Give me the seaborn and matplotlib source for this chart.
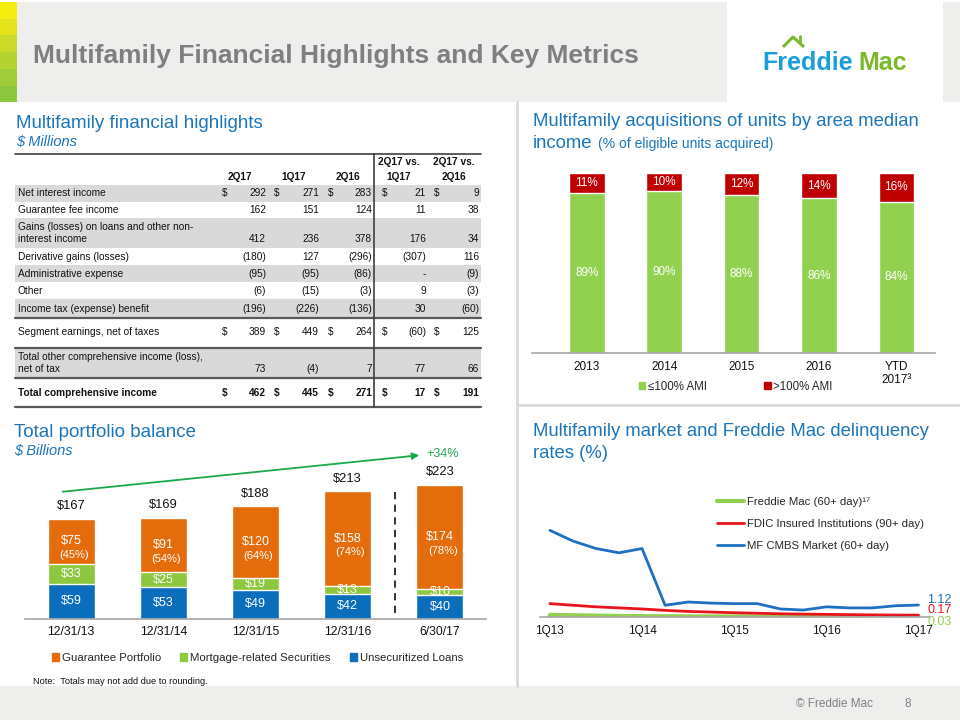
import numpy as np
import pandas as pd
import matplotlib
matplotlib.use('Agg')
import matplotlib.pyplot as plt
from matplotlib.patches import Rectangle, Patch
from matplotlib.lines import Line2D
import seaborn as sns

# ---------------- data ----------------
table_cols = ['2Q17', '1Q17', '2Q16', '2Q17 vs.\n1Q17', '2Q17 vs.\n2Q16']
table_rows = ['Net interest income',
              'Guarantee fee income',
              'Gains (losses) on loans and other non-\ninterest income',
              'Derivative gains (losses)',
              'Administrative expense',
              'Other',
              'Income tax (expense) benefit',
              'Segment earnings, net of taxes',
              'Total other comprehensive income (loss),\nnet of tax',
              'Total comprehensive income']
table_vals = [[292, 271, 283, 21, 9],
              [162, 151, 124, 11, 38],
              [412, 236, 378, 176, 34],
              [-180, 127, -296, -307, 116],
              [-95, -95, -86, 0, -9],
              [-6, -15, -3, 9, -3],
              [-196, -226, -136, 30, -60],
              [389, 449, 264, -60, 125],
              [73, -4, 7, 77, 66],
              [462, 445, 271, 17, 191]]
dollar_rows = [0, 7, 9]
bold_rows = [9]

ami_years = ['2013', '2014', '2015', '2016', 'YTD\n2017³']
ami_low = [89, 90, 88, 86, 84]
ami_high = [11, 10, 12, 14, 16]

port_dates = ['12/31/13', '12/31/14', '12/31/15', '12/31/16', '6/30/17']
port_guarantee = [75, 91, 120, 158, 174]
port_securities = [33, 25, 19, 13, 10]
port_loans = [59, 53, 49, 42, 40]
port_totals = [167, 169, 188, 213, 223]
port_guar_share = [45, 54, 64, 74, 78]
port_growth = '+34%'

quarters = ['1Q13', '2Q13', '3Q13', '4Q13', '1Q14', '2Q14', '3Q14', '4Q14',
            '1Q15', '2Q15', '3Q15', '4Q15', '1Q16', '2Q16', '3Q16', '4Q16', '1Q17']
cmbs_rate = [8.1, 7.1, 6.4, 6.0, 6.4, 1.1, 1.4, 1.3, 1.25, 1.25, 0.75, 0.65,
             0.95, 0.85, 0.85, 1.05, 1.12]
fdic_rate = [1.25, 1.1, 0.95, 0.85, 0.75, 0.62, 0.52, 0.46, 0.4, 0.35, 0.3,
             0.27, 0.25, 0.22, 0.2, 0.18, 0.17]
freddie_rate = [0.2, 0.16, 0.13, 0.1, 0.08, 0.07, 0.06, 0.05, 0.05, 0.04, 0.04,
                0.04, 0.03, 0.03, 0.03, 0.03, 0.03]

# ---------------- style ----------------
sns.set_theme(style='white')
plt.rcParams['font.family'] = ['Liberation Sans', 'DejaVu Sans']

W, H = 960, 720
BLUE_T = '#1B75BB'
GRAY_BG = '#EEEEEC'
TXT = '#111111'


def px_box(x0, y0, x1, y1):
    return [x0 / W, 1 - y1 / H, (x1 - x0) / W, (y1 - y0) / H]


def fmt(v):
    if v == 0:
        return '-'
    return f'({-v})' if v < 0 else f'{v}'


fig = plt.figure(figsize=(9.6, 7.2), dpi=100)
bg = fig.add_axes([0, 0, 1, 1])
bg.set_xlim(0, W)
bg.set_ylim(H, 0)
bg.axis('off')

# header
bg.add_patch(Rectangle((17, 2), 710, 100, color=GRAY_BG, lw=0))
bg.add_patch(Rectangle((943, 2), 17, 100, color=GRAY_BG, lw=0))
stripe = ['#F5EC12', '#E4E21B', '#CBDA2A', '#B5D233', '#A0CB3A', '#8DC63F']
for i, c in enumerate(stripe):
    bg.add_patch(Rectangle((0, 2 + i * 16.7), 17, 16.8, color=c, lw=0))
bg.text(33, 63, 'Multifamily Financial Highlights and Key Metrics', fontsize=19,
        fontweight='bold', color='#7F7F7F', va='baseline')
# logo
bg.text(762, 70, 'Freddie', fontsize=18, fontweight='bold', color='#1A9FDB', va='baseline')
bg.text(858, 70, 'Mac', fontsize=18, fontweight='bold', color='#7AB929', va='baseline')
bg.plot([783, 793, 804], [47, 37, 47], color='#7AB929', lw=2.2, solid_capstyle='butt')
bg.plot([800, 800], [43, 36], color='#7AB929', lw=2)

# footer and dividers
bg.add_patch(Rectangle((0, 686), W, 34, color=GRAY_BG, lw=0))
bg.text(835, 704, '© Freddie Mac', fontsize=8.5, color='#808080', ha='center', va='center')
bg.text(908, 704, '8', fontsize=8.5, color='#808080', ha='center', va='center')
bg.plot([517, 517], [102, 686], color='#D9D9D9', lw=2)
bg.plot([517, 960], [405, 405], color='#D9D9D9', lw=2)

# ---------------- table ----------------
bg.text(16, 128, 'Multifamily financial highlights', fontsize=13.5, color=BLUE_T, va='baseline')
bg.text(16, 146, '$ Millions', fontsize=10.5, color=BLUE_T, style='italic', va='baseline')

bounds = [185, 202, 218, 248, 265, 282, 299, 318, 348, 378, 407]
val_y = [193, 210, 239, 257, 274, 291, 309, 332, 369, 393]
dollar_x = [225, 277, 331, 385, 437]
val_right = [266, 319, 372, 426, 479]
hdr_x = [240, 294, 348, 399, 454]
TFS = 7.3

for i in range(len(table_rows)):
    if i % 2 == 0:
        bg.add_patch(Rectangle((15, bounds[i]), 466, bounds[i + 1] - bounds[i],
                               color='#D9D9D9', lw=0))
for c, hx in zip(table_cols, hdr_x):
    parts = c.split('\n')
    for k, part in enumerate(reversed(parts)):
        bg.text(hx, 177 - 15 * k, part, fontsize=TFS, fontweight='bold',
                ha='center', va='center', color=TXT)

for i, (lab, vals) in enumerate(zip(table_rows, table_vals)):
    fw = 'bold' if i in bold_rows else 'normal'
    nl = lab.count('\n')
    bg.text(18, val_y[i] - nl * 6.25, lab, fontsize=TFS, fontweight=fw, va='center',
            linespacing=1.25, color=TXT)
    for j, v in enumerate(vals):
        bg.text(val_right[j], val_y[i], fmt(v), fontsize=TFS, fontweight=fw,
                ha='right', va='center', color=TXT)
        if i in dollar_rows:
            bg.text(dollar_x[j], val_y[i], '$', fontsize=TFS, fontweight=fw,
                    ha='center', va='center', color=TXT)

bg.plot([15, 481], [154, 154], color='#404040', lw=1.2)
for yy in [318, 348, 378, 407]:
    bg.plot([15, 481], [yy, yy], color='#595959', lw=1.6)
bg.plot([374, 374], [154, 407], color='#404040', lw=1.2)

# ---------------- AMI stacked bars ----------------
bg.text(533, 126, 'Multifamily acquisitions of units by area median', fontsize=13.3,
        color=BLUE_T, va='baseline')
bg.text(533, 148, 'income', fontsize=13.3, color=BLUE_T, va='baseline')
bg.text(598, 148, '(% of eligible units acquired)', fontsize=10, color=BLUE_T, va='baseline')

GREEN_A, RED_A = '#92D050', '#C00000'
ax1 = fig.add_axes(px_box(532, 160, 935, 353))
ax1.patch.set_alpha(0)
ami_total = [a + b for a, b in zip(ami_low, ami_high)]
sns.barplot(x=ami_years, y=ami_total, color=RED_A, saturation=1, width=0.46,
            errorbar=None, ax=ax1)
sns.barplot(x=ami_years, y=ami_low, color=GREEN_A, saturation=1, width=0.46,
            errorbar=None, ax=ax1)
for i, (lo, hi) in enumerate(zip(ami_low, ami_high)):
    ax1.text(i, lo / 2, f'{lo}%', color='white', fontsize=8.5, ha='center', va='center')
    ax1.text(i, lo + hi / 2, f'{hi}%', color='white', fontsize=8.5, ha='center', va='center')
ax1.set_xlim(-0.71, 4.5)
ax1.set_ylim(0, 107.2)
ax1.set(xlabel='', ylabel='', yticks=[])
sns.despine(ax=ax1, left=True)
ax1.spines['bottom'].set_color('#A6A6A6')
ax1.spines['bottom'].set_linewidth(1.2)
ax1.tick_params(axis='x', length=0, pad=5.5, labelsize=8.5, labelcolor=TXT)
ax1.legend(handles=[Patch(color=GREEN_A), Patch(color=RED_A)],
           labels=['≤100% AMI', '>100% AMI'], ncol=2, frameon=False, fontsize=8.3,
           loc='center left', bbox_to_anchor=(639 / W, 1 - 387 / H),
           bbox_transform=fig.transFigure, handlelength=0.55, handleheight=0.55,
           handletextpad=0.2, columnspacing=5.0, borderpad=0, borderaxespad=0)

# ---------------- portfolio stacked bars ----------------
bg.text(14, 437, 'Total portfolio balance', fontsize=13.5, color=BLUE_T, va='baseline')
bg.text(14, 455, '$ Billions', fontsize=10.5, color=BLUE_T, style='italic', va='baseline')

ORANGE, GREEN_P, BLUE_P = '#E46C0A', '#8DC63F', '#0A6EBD'
ax2 = fig.add_axes(px_box(25, 440, 486, 619))
ax2.patch.set_alpha(0)
cum_sec = [a + b for a, b in zip(port_loans, port_securities)]
cum_all = [a + b for a, b in zip(cum_sec, port_guarantee)]
sns.barplot(x=port_dates, y=cum_all, color=ORANGE, saturation=1, width=0.51, errorbar=None, ax=ax2)
sns.barplot(x=port_dates, y=cum_sec, color=GREEN_P, saturation=1, width=0.51, errorbar=None, ax=ax2)
sns.barplot(x=port_dates, y=port_loans, color=BLUE_P, saturation=1, width=0.51, errorbar=None, ax=ax2)
for i in range(len(port_dates)):
    ax2.text(i, port_loans[i] / 2, f'${port_loans[i]}', color='white', fontsize=9,
             ha='center', va='center')
    ax2.text(i, port_loans[i] + port_securities[i] / 2, f'${port_securities[i]}',
             color='white', fontsize=9, ha='center', va='center')
    mid = cum_sec[i] + port_guarantee[i] / 2
    ax2.text(i, mid, f'${port_guarantee[i]}', color='white', fontsize=9,
             ha='center', va='center')
    ax2.annotate(f'({port_guar_share[i]}%)', xy=(i, mid), xytext=(2, -10),
                 textcoords='offset points', color='white', fontsize=8,
                 ha='center', va='center')
    ax2.annotate(f'${port_totals[i]}', xy=(i, cum_all[i]), xytext=(0, 9),
                 textcoords='offset points', color=TXT, fontsize=9.3,
                 ha='center', va='center')
ax2.set_xlim(-0.5, 4.5)
ax2.set_ylim(0, 298.3)
ax2.set(xlabel='', ylabel='', yticks=[])
sns.despine(ax=ax2, left=True)
ax2.spines['bottom'].set_color('#A6A6A6')
ax2.spines['bottom'].set_linewidth(1.2)
ax2.tick_params(axis='x', length=0, pad=5, labelsize=8.8, labelcolor=TXT)
ax2.legend(handles=[Patch(color=ORANGE), Patch(color=GREEN_P), Patch(color=BLUE_P)],
           labels=['Guarantee Portfolio', 'Mortgage-related Securities', 'Unsecuritized Loans'],
           ncol=3, frameon=False, fontsize=8.2, loc='center left',
           bbox_to_anchor=(52 / W, 1 - 658 / H), bbox_transform=fig.transFigure,
           handlelength=0.6, handleheight=0.6, handletextpad=0.25,
           columnspacing=1.7, borderpad=0, borderaxespad=0)

bg.annotate('', xy=(422, 455), xytext=(60, 492),
            arrowprops=dict(arrowstyle='-|>', color='#1BA84A', lw=1.3, mutation_scale=10))
bg.text(443, 454, port_growth, color='#1BA84A', fontsize=9, ha='center', va='center')
bg.plot([395, 395], [492, 613], color='#222222', lw=1.3, ls=(0, (4, 3)))
bg.text(33, 682, 'Note:  Totals may not add due to rounding.', fontsize=6.7,
        color=TXT, va='center')

# ---------------- delinquency lines ----------------
bg.text(533, 436, 'Multifamily market and Freddie Mac delinquency', fontsize=13.3,
        color=BLUE_T, va='baseline')
bg.text(533, 458, 'rates (%)', fontsize=13.3, color=BLUE_T, va='baseline')

ax3 = fig.add_axes(px_box(540, 490, 930, 617))
ax3.patch.set_alpha(0)
qx = np.arange(len(quarters))
series = [('Freddie Mac (60+ day)¹⁷', freddie_rate, '#92D050', 3.0),
          ('FDIC Insured Institutions (90+ day)', fdic_rate, '#E8141B', 2.0),
          ('MF CMBS Market (60+ day)', cmbs_rate, '#1F70C1', 2.0)]
for name, vals, col, lw in series:
    sns.lineplot(x=qx, y=vals, color=col, linewidth=lw, ax=ax3)
ax3.set_xlim(-0.43, 16.5)
ax3.set_ylim(0, 11.87)
ax3.set_xticks(qx[::4])
ax3.set_xticklabels(quarters[::4])
ax3.set(xlabel='', ylabel='', yticks=[])
sns.despine(ax=ax3, left=True)
ax3.spines['bottom'].set_color('#A6A6A6')
ax3.spines['bottom'].set_linewidth(1.2)
ax3.tick_params(axis='x', length=0, pad=5.5, labelsize=8.5, labelcolor=TXT)
for (name, vals, col, lw), dy in zip(series, [-3.5, 3.8, 3.8]):
    ax3.annotate(f'{vals[-1]:.2f}', xy=(qx[-1], vals[-1]), xytext=(6.5, dy),
                 textcoords='offset points', color=col, fontsize=9,
                 ha='left', va='center', annotation_clip=False)
ax3.legend(handles=[Line2D([], [], color=c, lw=lw) for _, _, c, lw in series],
           labels=[s[0] for s in series], frameon=False, fontsize=8.2,
           loc='upper left', bbox_to_anchor=(717 / W, 1 - 497 / H),
           bbox_transform=fig.transFigure, handlelength=2.4, handletextpad=0.2,
           labelspacing=1.05, borderpad=0, borderaxespad=0)

fig.savefig('out.png', dpi=100)
